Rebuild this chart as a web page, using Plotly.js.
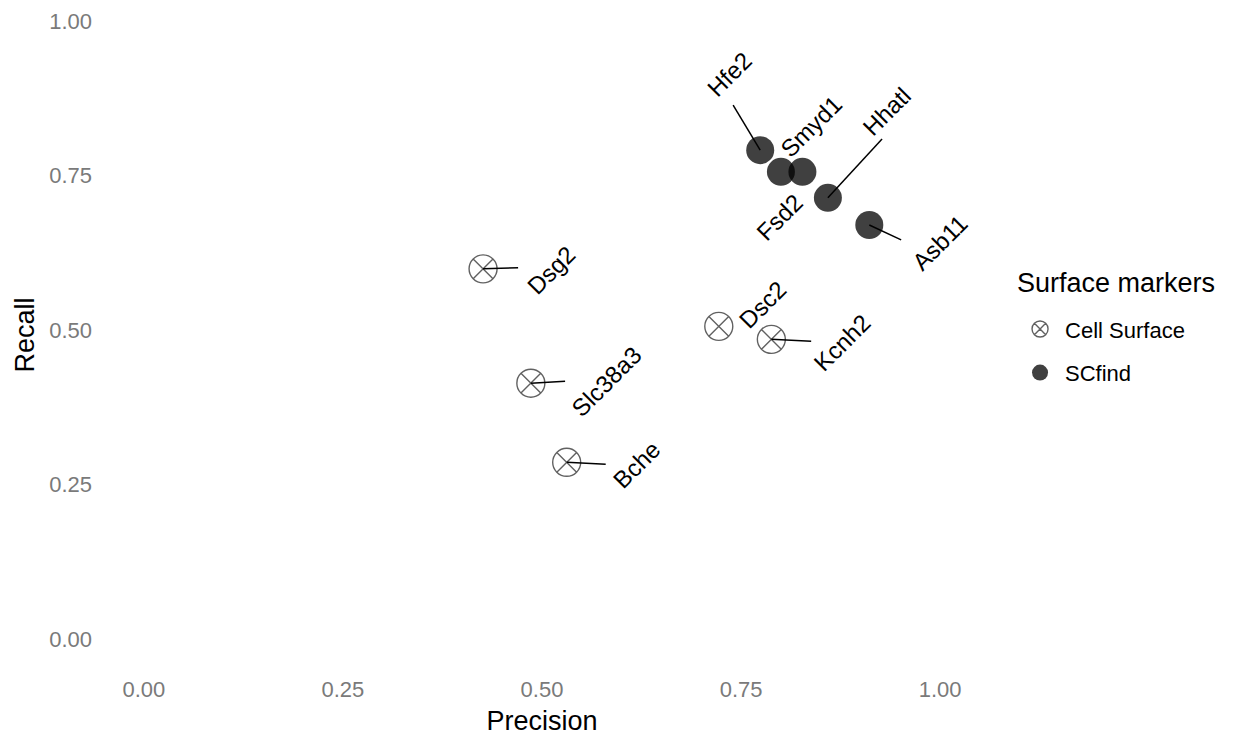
<!DOCTYPE html>
<html>
<head>
<meta charset="utf-8">
<script src="https://cdn.plot.ly/plotly-3.0.1.min.js"></script>
<style>html,body{margin:0;padding:0;background:#fff;}#chart{width:1235px;height:741px;}</style>
</head>
<body>
<div id="chart"></div>
<script>
// ---- data ----
const cellGenes = ['Dsg2', 'Dsc2', 'Kcnh2', 'Slc38a3', 'Bche'];
const cellPrecision = [0.426, 0.722, 0.788, 0.486, 0.531];
const cellRecall = [0.599, 0.506, 0.485, 0.414, 0.286];

const scGenes = ['Hfe2', 'Smyd1', 'Fsd2', 'Hhatl', 'Asb11'];
const scPrecision = [0.774, 0.800, 0.827, 0.859, 0.911];
const scRecall = [0.791, 0.756, 0.756, 0.714, 0.670];

const xTicks = [0, 0.25, 0.5, 0.75, 1];
const xTickText = ['0.00', '0.25', '0.50', '0.75', '1.00'];
const yTicks = [0, 0.25, 0.5, 0.75, 1];
const yTickText = ['0.00', '0.25', '0.50', '0.75', '1.00'];

const legendTitle = 'Surface markers';

// repelled label offsets (data units) and leader segment ends
const cellLabelDx = [0.085, 0.055, 0.089, 0.095, 0.088];
const cellLabelDy = [-0.002, 0.036, -0.005, 0.003, -0.003];
const cellSegDx = [0.044, null, 0.050, 0.043, 0.049];
const cellSegDy = [0.002, null, -0.003, 0.003, -0.003];

const scLabelDx = [-0.039, 0.038, -0.029, 0.074, 0.089];
const scLabelDy = [0.123, 0.073, -0.074, 0.139, -0.029];
const scSegDx = [-0.034, null, null, 0.068, 0.040];
const scSegDy = [0.073, null, null, 0.095, -0.024];

// ---- traces ----
const FONT = 'Liberation Sans, Arial, sans-serif';
const traces = [
  {
    type: 'scatter', mode: 'markers', name: 'Cell Surface',
    x: cellPrecision, y: cellRecall, text: cellGenes,
    legendgroup: 'a',
    marker: {symbol: 'circle-x-open', size: 28, color: 'rgba(0,0,0,0.62)', line: {width: 1.4}}
  },
  {
    type: 'scatter', mode: 'markers', name: 'SCfind',
    x: scPrecision, y: scRecall, text: scGenes,
    legendgroup: 'b',
    marker: {symbol: 'circle', size: 28, color: 'rgba(0,0,0,0.75)'}
  }
];

const annotations = [];
function addLabels(genes, xs, ys, ldx, ldy, sdx, sdy) {
  genes.forEach((g, i) => {
    if (sdx[i] !== null) {
      traces.push({
        type: 'scatter', mode: 'lines', showlegend: false, hoverinfo: 'skip',
        x: [xs[i], xs[i] + sdx[i]], y: [ys[i], ys[i] + sdy[i]],
        line: {color: '#000', width: 1.5}
      });
    }
    annotations.push({
      x: xs[i] + ldx[i], y: ys[i] + ldy[i], xref: 'x', yref: 'y',
      text: g, showarrow: false, textangle: -45,
      xanchor: 'center', yanchor: 'middle',
      font: {family: FONT, size: 24, color: '#000'}
    });
  });
}
addLabels(cellGenes, cellPrecision, cellRecall, cellLabelDx, cellLabelDy, cellSegDx, cellSegDy);
addLabels(scGenes, scPrecision, scRecall, scLabelDx, scLabelDy, scSegDx, scSegDy);

// legend title (placed as text above the legend entries)
annotations.push({
  x: 1.040, y: 0.578, xref: 'paper', yref: 'paper',
  xanchor: 'left', yanchor: 'middle', showarrow: false,
  text: legendTitle,
  font: {family: FONT, size: 27, color: '#000'}
});

const layout = {
  width: 1235, height: 741,
  margin: {l: 104, r: 255, t: 0, b: 71},
  paper_bgcolor: '#fff', plot_bgcolor: '#fff',
  font: {family: FONT},
  showlegend: true,
  xaxis: {
    range: [-0.05, 1.05], showgrid: false, zeroline: false, showline: false,
    tickvals: xTicks, ticktext: xTickText, ticks: '',
    tickfont: {family: FONT, size: 22, color: '#7a7a7a'},
    ticklabelstandoff: 4,
    title: {text: 'Precision', font: {family: FONT, size: 27, color: '#000'}, standoff: 10},
    automargin: false
  },
  yaxis: {
    range: [-0.05, 1.034], showgrid: false, zeroline: false, showline: false,
    tickvals: yTicks, ticktext: yTickText, ticks: '',
    tickfont: {family: FONT, size: 22, color: '#7a7a7a'},
    ticklabelstandoff: 11,
    title: {text: 'Recall', font: {family: FONT, size: 27, color: '#000'}, standoff: 6},
    automargin: false
  },
  legend: {
    x: 1.04, xanchor: 'left', y: 0.540, yanchor: 'top',
    font: {family: FONT, size: 22, color: '#000'},
    tracegroupgap: 12, itemwidth: 40,
    bgcolor: 'rgba(0,0,0,0)'
  },
  annotations: annotations
};

Plotly.newPlot('chart', traces, layout, {displayModeBar: false, staticPlot: true});
</script>
</body>
</html>
